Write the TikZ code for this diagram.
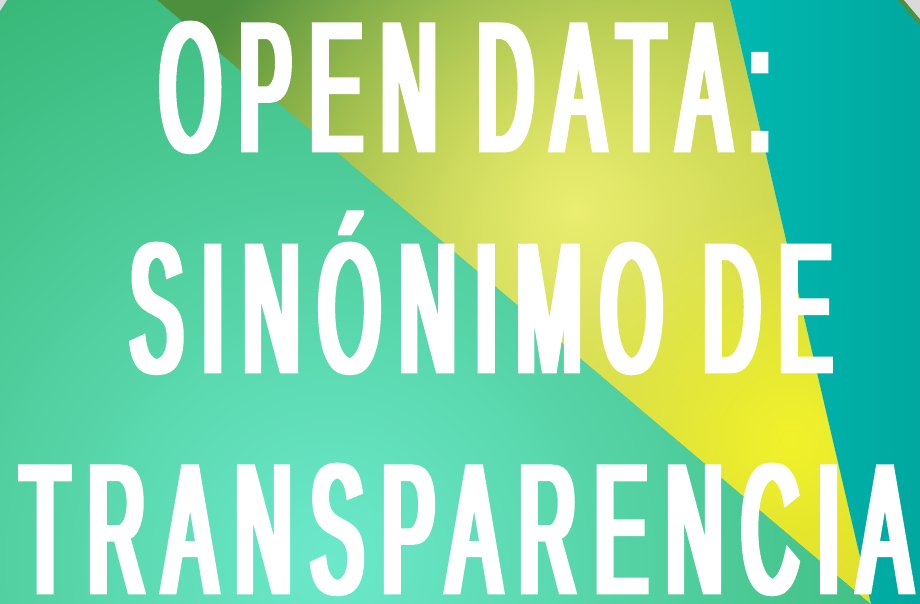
\documentclass[tikz,border=0pt]{standalone}
\usepackage{fontspec}
\usepackage{graphicx}
\usetikzlibrary{fadings}
\newfontfamily\headfont[FakeStretch=0.12,FakeBold=1.5,LetterSpace=3]{Liberation Sans}
\definecolor{leafgreen}{HTML}{38B878}
\definecolor{mint}{HTML}{6CE9CB}
\definecolor{olive}{HTML}{4E8F3E}
\definecolor{lemon}{HTML}{D8D82E}
\definecolor{pale}{HTML}{EBEE70}
\definecolor{bright}{HTML}{F2F22A}
\definecolor{tealA}{HTML}{00B8B0}
\definecolor{tealB}{HTML}{00A89F}
\definecolor{corner}{HTML}{DADADA}
\newsavebox\plainbox
\newsavebox\fullbox
\newcommand\fitline[4]{\sbox\plainbox{#3}\sbox\fullbox{#4}%
  \resizebox{#1}{\dimexpr #2*\ht\fullbox/\ht\plainbox\relax}{#4}}
\tikzfading[name=glow,inner color=transparent!0,outer color=transparent!100]
\tikzset{headline/.style={inner sep=0pt,anchor=base west,text=white,
  font=\headfont\fontsize{20}{24}\selectfont}}
\begin{document}
\begin{tikzpicture}[x=0.02cm,y=-0.02cm]
\useasboundingbox (0,0) rectangle (920,604);
\begin{scope}
\clip (0,0)--(157,0)--(871,604)--(0,604)--cycle;
\fill[leafgreen] (0,0) rectangle (920,604);
\shade[inner color=mint,outer color=leafgreen] (330,560) circle[radius=13cm];
\end{scope}
\begin{scope}
\clip (157,0)--(730,0)--(871,604)--cycle;
\shade[top color=olive,bottom color=lemon,middle color=lemon!70!olive,shading angle=35] (100,-100) rectangle (950,700);
\fill[pale,path fading=glow] (575,210) circle[radius=8cm];
\fill[bright,path fading=glow] (790,440) circle[radius=4.8cm];
\end{scope}
\begin{scope}
\clip (730,0)--(920,0)--(920,604)--(871,604)--cycle;
\shade[left color=tealA,right color=tealB] (730,0) rectangle (920,604);
\end{scope}
\fill[corner] (0,0)--(7,0)--(0,11)--cycle;
\fill[olive] (898,0)--(920,0)--(920,26)--cycle;
\fill[corner] (904,0)--(920,0)--(920,19)--cycle;
\node[headline] (open) at (160,151) {\fitline{12.2cm}{2.58cm}{O}{OPEN DATA:}};
\node[headline] (synonym) at (130,372) {\fitline{14.02cm}{2.58cm}{O}{SINÓNIMO DE}};
\node[headline] (clarity) at (21,593) {\fitline{17.78cm}{2.58cm}{O}{TRANSPARENCIA}};
\end{tikzpicture}
\end{document}
